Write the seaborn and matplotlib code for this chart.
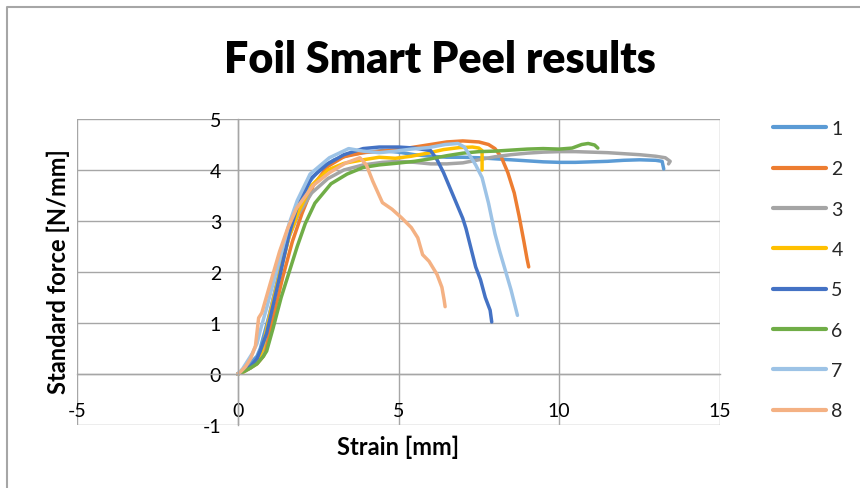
import seaborn as sns
import matplotlib.pyplot as plt
import pandas as pd
from matplotlib.lines import Line2D

sns.set_style("white")
plt.rcParams['font.family'] = ['Lato', 'DejaVu Sans']
plt.rcParams['axes.unicode_minus'] = False

# Peel curves: strain [mm] / standard force [N/mm]
x1 = [0, 0.15, 0.3, 0.45, 0.6, 0.7, 1.0, 1.3, 1.6, 1.9, 2.2, 2.6, 3.0, 3.5, 4.0, 4.5, 5.0, 5.5,
      6.0, 6.5, 7.0, 7.5, 8.0, 8.5, 9.0, 9.5, 10.0, 10.5, 11.0, 11.5, 12.0, 12.5, 13.0, 13.2, 13.25]
y1 = [0, 0.08, 0.15, 0.25, 0.35, 0.5, 1.2, 2.0, 2.8, 3.35, 3.75, 4.05, 4.2, 4.3, 4.35, 4.38, 4.35, 4.3,
      4.27, 4.25, 4.25, 4.24, 4.22, 4.2, 4.18, 4.16, 4.15, 4.15, 4.16, 4.17, 4.19, 4.2, 4.19, 4.17, 4.02]

x2 = [0, 0.2, 0.4, 0.6, 0.8, 0.85, 1.1, 1.4, 1.7, 2.0, 2.35, 2.8, 3.3, 3.9, 4.5, 5.0, 5.5, 6.0,
      6.5, 7.0, 7.5, 7.8, 8.0, 8.2, 8.4, 8.6, 8.75, 8.9, 9.0, 9.05]
y2 = [0, 0.05, 0.12, 0.2, 0.35, 0.45, 1.1, 1.9, 2.6, 3.15, 3.7, 4.07, 4.26, 4.34, 4.37, 4.4, 4.45, 4.5,
      4.55, 4.57, 4.55, 4.5, 4.42, 4.25, 3.95, 3.55, 3.1, 2.6, 2.25, 2.1]

x3 = [0, 0.2, 0.4, 0.6, 0.75, 1.0, 1.3, 1.6, 1.9, 2.3, 2.8, 3.3, 3.9, 4.5, 5.0, 5.5, 6.0, 6.5, 7.0,
      7.5, 8.0, 8.5, 9.0, 9.5, 10.0, 10.5, 11.0, 11.5, 12.0, 12.5, 13.0, 13.3, 13.45, 13.4]
y3 = [0, 0.05, 0.12, 0.25, 0.4, 1.2, 2.0, 2.7, 3.15, 3.55, 3.83, 4.0, 4.1, 4.15, 4.17, 4.15, 4.12, 4.12, 4.14,
      4.2, 4.26, 4.3, 4.33, 4.35, 4.36, 4.36, 4.35, 4.34, 4.32, 4.3, 4.27, 4.24, 4.17, 4.12]

x4 = [0, 0.2, 0.4, 0.6, 0.75, 1.0, 1.3, 1.6, 1.9, 2.3, 2.8, 3.3, 3.9, 4.4, 4.9, 5.4, 5.9, 6.4,
      6.9, 7.3, 7.5, 7.6, 7.6]
y4 = [0, 0.05, 0.15, 0.25, 0.45, 1.15, 1.95, 2.7, 3.2, 3.7, 4.0, 4.13, 4.2, 4.25, 4.23, 4.27, 4.33, 4.4,
      4.44, 4.45, 4.43, 4.38, 4.0]

x5 = [0, 0.2, 0.4, 0.6, 0.7, 0.9, 1.3, 1.6, 1.85, 2.3, 2.8, 3.3, 3.9, 4.4, 5.0, 5.5, 6.0, 6.2, 6.4,
      6.6, 6.8, 7.0, 7.1, 7.2, 7.3, 7.4, 7.55, 7.7, 7.85, 7.9]
y5 = [0, 0.08, 0.15, 0.3, 0.45, 0.8, 1.9, 2.75, 3.28, 3.85, 4.12, 4.3, 4.42, 4.45, 4.45, 4.43, 4.38, 4.2, 3.95,
      3.65, 3.35, 3.05, 2.85, 2.6, 2.35, 2.1, 1.85, 1.5, 1.25, 1.02]

x6 = [0, 0.2, 0.4, 0.6, 0.8, 0.9, 1.1, 1.35, 1.6, 1.85, 2.1, 2.4, 2.9, 3.4, 3.9, 4.4, 4.9, 5.5, 6.0,
      6.5, 7.0, 7.5, 8.0, 8.5, 9.0, 9.5, 10.0, 10.4, 10.7, 10.9, 11.1, 11.2]
y6 = [0, 0.05, 0.12, 0.2, 0.35, 0.45, 0.9, 1.5, 2.0, 2.5, 2.95, 3.35, 3.73, 3.92, 4.05, 4.1, 4.13, 4.17, 4.22,
      4.28, 4.33, 4.36, 4.37, 4.39, 4.41, 4.42, 4.41, 4.43, 4.5, 4.52, 4.49, 4.43]

x7 = [0, 0.15, 0.3, 0.45, 0.6, 0.7, 0.9, 1.3, 1.6, 1.85, 2.25, 2.85, 3.45, 3.9, 4.4, 4.9, 5.4, 5.95,
      6.45, 6.85, 7.05, 7.2, 7.4, 7.6, 7.8, 8.0, 8.15, 8.3, 8.5, 8.6, 8.7]
y7 = [0, 0.1, 0.25, 0.4, 0.6, 0.85, 1.3, 2.25, 2.95, 3.4, 3.92, 4.24, 4.42, 4.37, 4.34, 4.37, 4.41, 4.44,
      4.5, 4.52, 4.45, 4.3, 4.1, 3.85, 3.35, 2.75, 2.4, 2.08, 1.65, 1.4, 1.15]

x8 = [0, 0.1, 0.25, 0.4, 0.55, 0.65, 0.75, 1.0, 1.3, 1.55, 1.83, 2.35, 2.86, 3.37, 3.8, 4.0, 4.2, 4.5,
      4.8, 5.1, 5.4, 5.6, 5.75, 5.95, 6.2, 6.35, 6.42, 6.45]
y8 = [0, 0.05, 0.15, 0.3, 0.55, 1.1, 1.2, 1.75, 2.4, 2.85, 3.25, 3.7, 3.95, 4.14, 4.24, 4.1, 3.78, 3.36,
      3.23, 3.06, 2.87, 2.67, 2.34, 2.21, 1.95, 1.7, 1.45, 1.32]

labels = ['1', '2', '3', '4', '5', '6', '7', '8']
colors = ['#5B9BD5', '#ED7D31', '#A5A5A5', '#FFC000', '#4472C4', '#70AD47', '#9DC3E6', '#F4B183']

xs = [x1, x2, x3, x4, x5, x6, x7, x8]
ys = [y1, y2, y3, y4, y5, y6, y7, y8]
frames = []
for lab, xv, yv in zip(labels, xs, ys):
    frames.append(pd.DataFrame({'Strain': xv, 'Force': yv, 'Test': lab}))
df = pd.concat(frames, ignore_index=True)

fig = plt.figure(figsize=(8.6, 4.89), dpi=100)
ax = fig.add_axes([77 / 860, 1 - 426 / 489, 643 / 860, 306 / 489])

sns.lineplot(data=df, x='Strain', y='Force', hue='Test', palette=colors,
             sort=False, estimator=None, units='Test', linewidth=2.5,
             legend=False, ax=ax, solid_capstyle='round')

grid_c = '#A6A6A6'
ax.set_xlim(-5, 15)
ax.set_ylim(-1, 5)
ax.set_xticks([-5, 0, 5, 10, 15])
ax.set_yticks([-1, 0, 1, 2, 3, 4, 5])
ax.grid(True, color=grid_c, linewidth=1)
ax.set_axisbelow(True)

# Excel style: axes cross at the origin
ax.spines['left'].set_position(('data', 0))
ax.spines['bottom'].set_position(('data', 0))
for s in ['left', 'bottom']:
    ax.spines[s].set_color(grid_c)
    ax.spines[s].set_linewidth(1)
ax.spines['top'].set_visible(False)
ax.spines['right'].set_visible(False)
ax.tick_params(axis='both', length=0, labelsize=14, colors='black')
ax.tick_params(axis='y', pad=12)
ax.tick_params(axis='x', pad=20)
ax.set_xlabel('')
ax.set_ylabel('')

fig.text(440 / 860, 1 - 60 / 489, 'Foil Smart Peel results', fontsize=31,
         fontweight='heavy', color='black', ha='center', va='center')
fig.text(398 / 860, 1 - 447 / 489, 'Strain [mm]', fontsize=17,
         fontweight='bold', color='black', ha='center', va='center')
fig.text(58 / 860, 1 - 272 / 489, 'Standard force [N/mm]', fontsize=17,
         fontweight='bold', color='black', ha='center', va='center', rotation=90)

handles = [Line2D([0], [0], color=c, linewidth=3, solid_capstyle='round') for c in colors]
fig.legend(handles, labels, loc='upper left', bbox_to_anchor=(773 / 860, 1 - 121 / 489),
           frameon=False, fontsize=14, handlelength=2.7, handletextpad=0.3,
           labelspacing=1.2, borderpad=0, borderaxespad=0)

# chart area border
fig.add_artist(Line2D([7 / 860, 7 / 860, 1], [0, 1 - 8 / 489, 1 - 8 / 489],
                      color=grid_c, linewidth=1.5))

fig.savefig('out.png', dpi=100)
